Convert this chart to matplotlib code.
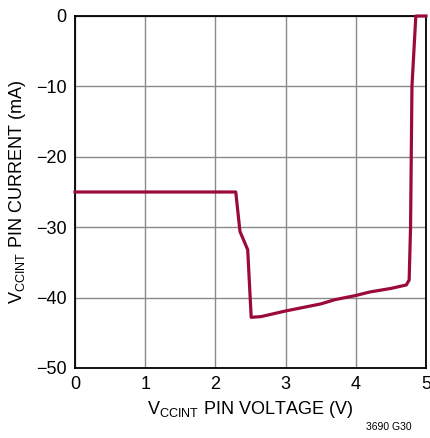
import matplotlib
matplotlib.use("Agg")
import matplotlib.pyplot as plt
from matplotlib import font_manager

voltage = [0.0, 2.29, 2.35, 2.46, 2.51, 2.65, 3.0, 3.5, 3.7, 4.0, 4.2, 4.5, 4.72, 4.76, 4.78, 4.79, 4.80, 4.855, 5.0]
current = [-25.0, -25.0, -30.6, -33.2, -42.8, -42.7, -41.9, -40.9, -40.3, -39.7, -39.2, -38.7, -38.2, -37.5, -30.0, -20.0, -10.0, 0.0, 0.0]
xticks = [0, 1, 2, 3, 4, 5]
yticks = [0, -10, -20, -30, -40, -50]
ytick_labels = ["0", "\u221210", "\u221220", "\u221230", "\u221240", "\u221250"]

names = {f.name for f in font_manager.fontManager.ttflist}
fam = 'Liberation Sans Narrow' if 'Liberation Sans Narrow' in names else 'Liberation Sans'
plt.rcParams['font.family'] = [fam, 'DejaVu Sans']
plt.rcParams['mathtext.fontset'] = 'custom'
plt.rcParams['mathtext.rm'] = fam

fig = plt.figure(figsize=(4.30, 4.38), dpi=100)
ax = fig.add_axes([75/430, 1-368/438, 351/430, 352/438])
ax.plot(voltage, current, color='#9B0A3C', lw=2.3, solid_joinstyle='round', clip_on=False, zorder=3)
ax.set_xlim(0, 5)
ax.set_ylim(-50, 0)
ax.set_xticks(xticks)
ax.set_yticks(yticks)
ax.set_yticklabels(ytick_labels)
ax.grid(True, color='#8a8a8a', lw=1.0)
ax.tick_params(length=0, labelsize=13, pad=6)
for s in ax.spines.values():
    s.set_linewidth(1.3)
    s.set_color('black')
ax.set_xlabel(r'V$_{\mathregular{CCINT}}$ PIN VOLTAGE (V)', fontsize=13, labelpad=4)
ax.set_ylabel(r'V$_{\mathregular{CCINT}}$ PIN CURRENT (mA)', fontsize=13, labelpad=6)
fig.text(412/430, 1-427/438, '3690 G30', fontsize=7.5, ha='right', va='center')
fig.savefig('out.png', dpi=100)
